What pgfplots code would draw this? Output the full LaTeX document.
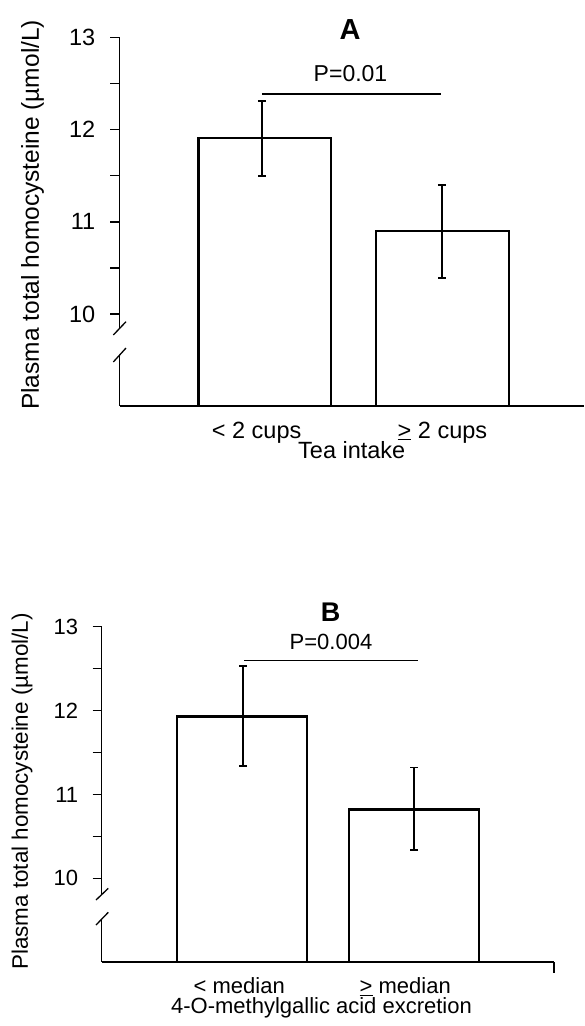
\documentclass[border=0pt]{standalone}
\usepackage{fontspec}
\setmainfont{Liberation Sans}
\usepackage{pgfplots}
\pgfplotsset{compat=1.18}

% shared look of both panels
\pgfplotsset{panel/.style={
  scale only axis,
  ymin=9, ymax=13,
  axis lines=left,
  axis line style={-, line width=1.8pt},
  y axis line style={draw=none},
  ytick={10,11,12,13},
  minor ytick={10.5,11.5,12.5},
  tick align=outside,
  major tick length=9pt, minor tick length=9pt,
  tick style={black, line width=1.3pt},
  x tick style={draw=none},
  /pgf/number format/assume math mode=true,
  yticklabel style={anchor=east, inner sep=0pt},
  xticklabel style={anchor=base, inner sep=0pt},
  ylabel style={anchor=center, rotate=0},
  xlabel style={anchor=base, inner sep=0pt},
},
errs/.style={draw=none, mark=none, forget plot,
  error bars/.cd, y dir=both, y explicit,
  error bar style={draw=black, line width=1.5pt},
  error mark=-,
  error mark options={draw=black, rotate=90, mark size=4pt, line width=1.5pt}},
}

\begin{document}
\begin{tikzpicture}
\path[use as bounding box] (0,0) rectangle (584pt,-1026pt);

% ---------- panel A ----------
\begin{axis}[panel,
  at={(119.5pt,-406pt)}, anchor=south west,
  width=464.5pt, height=368.3pt,
  xmin=-0.816, xmax=1.796,
  xtick={-0.045,1},
  xticklabels={{< 2 cups},{\underline{>} 2 cups}},
  xlabel={Tea intake},
  ylabel={Plasma total homocysteine (µmol/L)},
  tick label style={font=\fontsize{23.5}{28}\selectfont},
  yticklabel style={xshift=-15pt},
  xticklabel style={yshift=-23pt},
  xlabel style={font=\fontsize{23.5}{28}\selectfont, at={(axis description cs:0.5,0)}, yshift=-52pt},
  ylabel style={font=\fontsize{24.5}{29}\selectfont, at={(axis description cs:-0.187,0.519)}},
]
\addplot[ybar, bar width=0.747, bar shift=0pt, fill=white, draw=black, line width=2.7pt]
  coordinates {(0,11.91) (1,10.90)};
\addplot[errs] coordinates {(-0.015,11.91) += (0,0.40) -= (0,0.41) (0.997,10.90) += (0,0.50) -= (0,0.51)};
\addplot[black, line width=1.3pt] coordinates {(-0.015,12.39) (0.991,12.39)};
\end{axis}

% ---------- panel B ----------
\begin{axis}[panel,
  at={(101.7pt,-962.3pt)}, anchor=south west,
  width=452.3pt, height=335.6pt,
  xmin=-0.817, xmax=1.813,
  xtick={-0.017,0.948},
  xticklabels={{< median},{\underline{>} median}},
  xlabel={4-O-methylgallic acid excretion},
  ylabel={Plasma total homocysteine (µmol/L)},
  tick label style={font=\fontsize{22}{26}\selectfont},
  yticklabel style={xshift=-14.4pt},
  xticklabel style={yshift=-22.5pt},
  xlabel style={font=\fontsize{22}{26}\selectfont, at={(axis description cs:0.486,0)}, yshift=-51pt},
  ylabel style={font=\fontsize{22.4}{27}\selectfont, at={(axis description cs:-0.176,0.509)}},
]
\addplot[ybar, bar width=0.756, bar shift=0pt, fill=white, draw=black, line width=2.5pt]
  coordinates {(0,11.93) (1,10.82)};
\addplot[errs] coordinates {(0.006,11.93) += (0,0.60) -= (0,0.59) (1,10.82) += (0,0.50) -= (0,0.48)};
\addplot[black, line width=1.3pt] coordinates {(0.012,12.60) (1.02,12.60)};
\end{axis}

% broken y axes, titles and p values
\begin{scope}[x=1pt, y=-1pt, line width=1.3pt]
  \draw (119.5,37.7) -- (119.5,328.3);
  \draw (119.5,355) -- (119.5,406);
  \draw (113.3,335) -- (126,321.7);
  \draw (113.3,362) -- (126,348);
  \node[font=\fontsize{29}{32}\selectfont\bfseries, anchor=base] at (350,39.3) {A};
  \node[font=\fontsize{23}{27}\selectfont, anchor=base] at (350.5,81.7) {P=0.01};

  \draw (101.7,626.7) -- (101.7,894.2);
  \draw (101.7,918.7) -- (101.7,962.3);
  \draw (96,900) -- (108.3,888.3);
  \draw (96,925) -- (108.3,912.3);
  \draw (554,962.3) -- (554,972.7);
  \node[font=\fontsize{27}{30}\selectfont\bfseries, anchor=base] at (330.7,621.7) {B};
  \node[font=\fontsize{22}{26}\selectfont, anchor=base] at (331,649.3) {P=0.004};
\end{scope}
\end{tikzpicture}
\end{document}
